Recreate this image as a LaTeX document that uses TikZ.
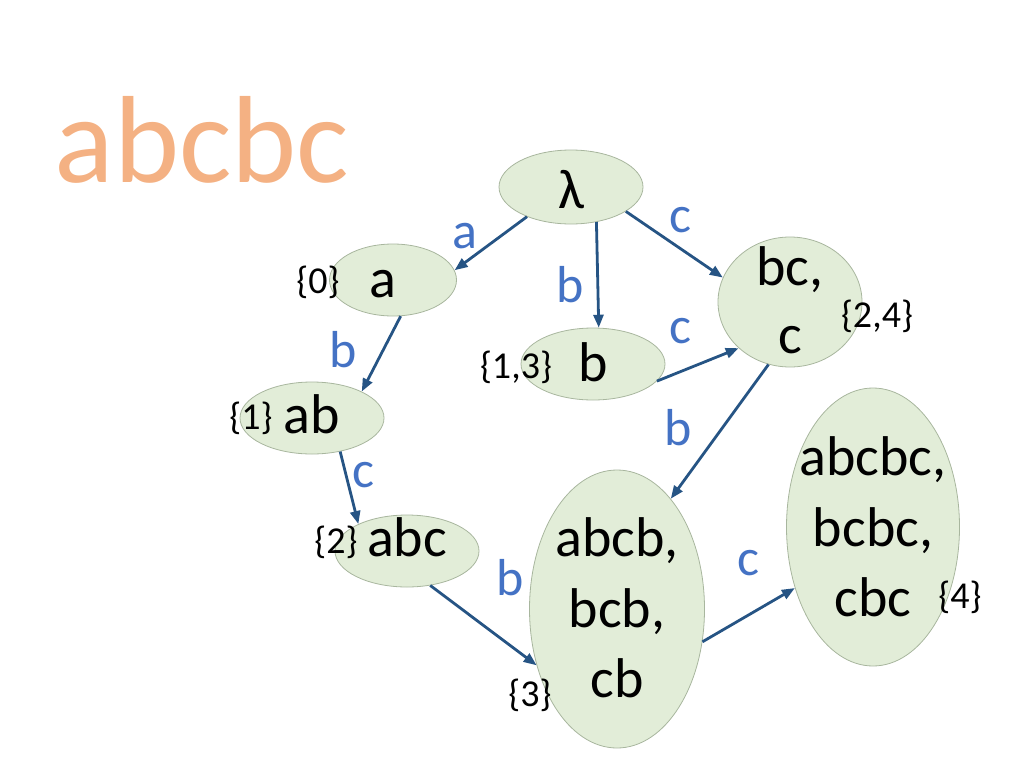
\documentclass[tikz,border=0pt]{standalone}
\usepackage{fontspec}
\setmainfont{Carlito}
\usetikzlibrary{arrows.meta,shapes.geometric}
\definecolor{titleorange}{RGB}{244,177,131}
\definecolor{lblue}{RGB}{68,114,196}
\definecolor{arrowblue}{RGB}{38,84,132}
\definecolor{nodefill}{RGB}{226,237,216}
\definecolor{nodeline}{RGB}{168,182,158}
\tikzset{
  state/.style={ellipse, draw=nodeline, line width=0.8pt, fill=nodefill, inner sep=0pt},
  maintext/.style={anchor=base, inner sep=0pt, font=\fontsize{56}{62}\selectfont, text=black},
  settext/.style={inner sep=0pt, font=\fontsize{38}{44}\selectfont, text=black},
  elab/.style={anchor=base, inner sep=0pt, font=\fontsize{52}{58}\selectfont, text=lblue},
  trans/.style={draw=arrowblue, line width=2.8pt, -{Triangle[length=13pt,width=10pt]}}
}
\begin{document}
\begin{tikzpicture}[x=1pt,y=-1pt]
\useasboundingbox (0,0) rectangle (1024,768);
% title
\node[anchor=base, inner sep=0pt, font=\fontsize{124}{130}\selectfont, text=titleorange] (title) at (202,182) {abcbc};
% states
\node[state, minimum width=144pt, minimum height=74pt] (lam) at (571,187) {};
\node[state, minimum width=127pt, minimum height=72pt] (na) at (393,280) {};
\node[state, minimum width=144pt, minimum height=72pt] (nb) at (593,364) {};
\node[state, minimum width=144pt, minimum height=72pt] (nab) at (312,418) {};
\node[state, minimum width=144pt, minimum height=130pt] (nbc) at (790,302) {};
\node[state, minimum width=144pt, minimum height=72pt] (nabc) at (407,551) {};
\node[state, minimum width=175pt, minimum height=278pt] (nabcb) at (617,609) {};
\node[state, minimum width=173pt, minimum height=278pt] (nabcbc) at (873,527) {};
% state texts
\node[maintext] (tlam) at (571,208) {λ};
\node[maintext] (ta) at (383,297) {a};
\node[maintext] (tb) at (593,381) {b};
\node[maintext] (tab) at (312,433) {ab};
\node[maintext] (tbc1) at (790,285) {bc,};
\node[maintext] (tbc2) at (790,353) {c};
\node[maintext] (tabc) at (407,556) {abc};
\node[maintext] (tabcb1) at (617,556) {abcb,};
\node[maintext] (tabcb2) at (617,627) {bcb,};
\node[maintext] (tabcb3) at (617,697) {cb};
\node[maintext] (tabcbc1) at (873,475) {abcbc,};
\node[maintext] (tabcbc2) at (873,546) {bcbc,};
\node[maintext] (tabcbc3) at (873,616) {cbc};
% sets
\node[settext] (s0) at (318,282) {\{0\}};
\node[settext] (s13) at (516,367) {\{1,3\}};
\node[settext] (s1) at (251,418) {\{1\}};
\node[settext] (s2) at (336,542) {\{2\}};
\node[settext] (s24) at (877,316) {\{2,4\}};
\node[settext] (s3) at (530,695) {\{3\}};
\node[settext] (s4) at (960,597) {\{4\}};
% transitions
\draw[trans] (lam.214.6) -- (na.9);
\draw[trans] (lam.-54.8) -- (nb.81.6);
\draw[trans] (lam.-24.4) -- (nbc.160.5);
\draw[trans] (na.-78) -- (nab.28.8);
\draw[trans] (nb.-15) -- (nbc.222);
\draw[trans] (nab.-50) -- (nabc.151);
\draw[trans] (nbc.-109) -- (nabcb.64);
\draw[trans] (nabc.-56.7) -- (nabcb.215.3);
\draw[trans] (nabcb.-21.7) -- (nabcbc.218);
% edge labels
\node[elab] (la) at (465,248) {a};
\node[elab] (lc1) at (680,232) {c};
\node[elab] (lb1) at (570,302) {b};
\node[elab] (lc2) at (680,343) {c};
\node[elab] (lb2) at (343,367) {b};
\node[elab] (lc3) at (363,487) {c};
\node[elab] (lb3) at (678,445) {b};
\node[elab] (lb4) at (510,595) {b};
\node[elab] (lc4) at (748,575) {c};
\end{tikzpicture}
\end{document}
